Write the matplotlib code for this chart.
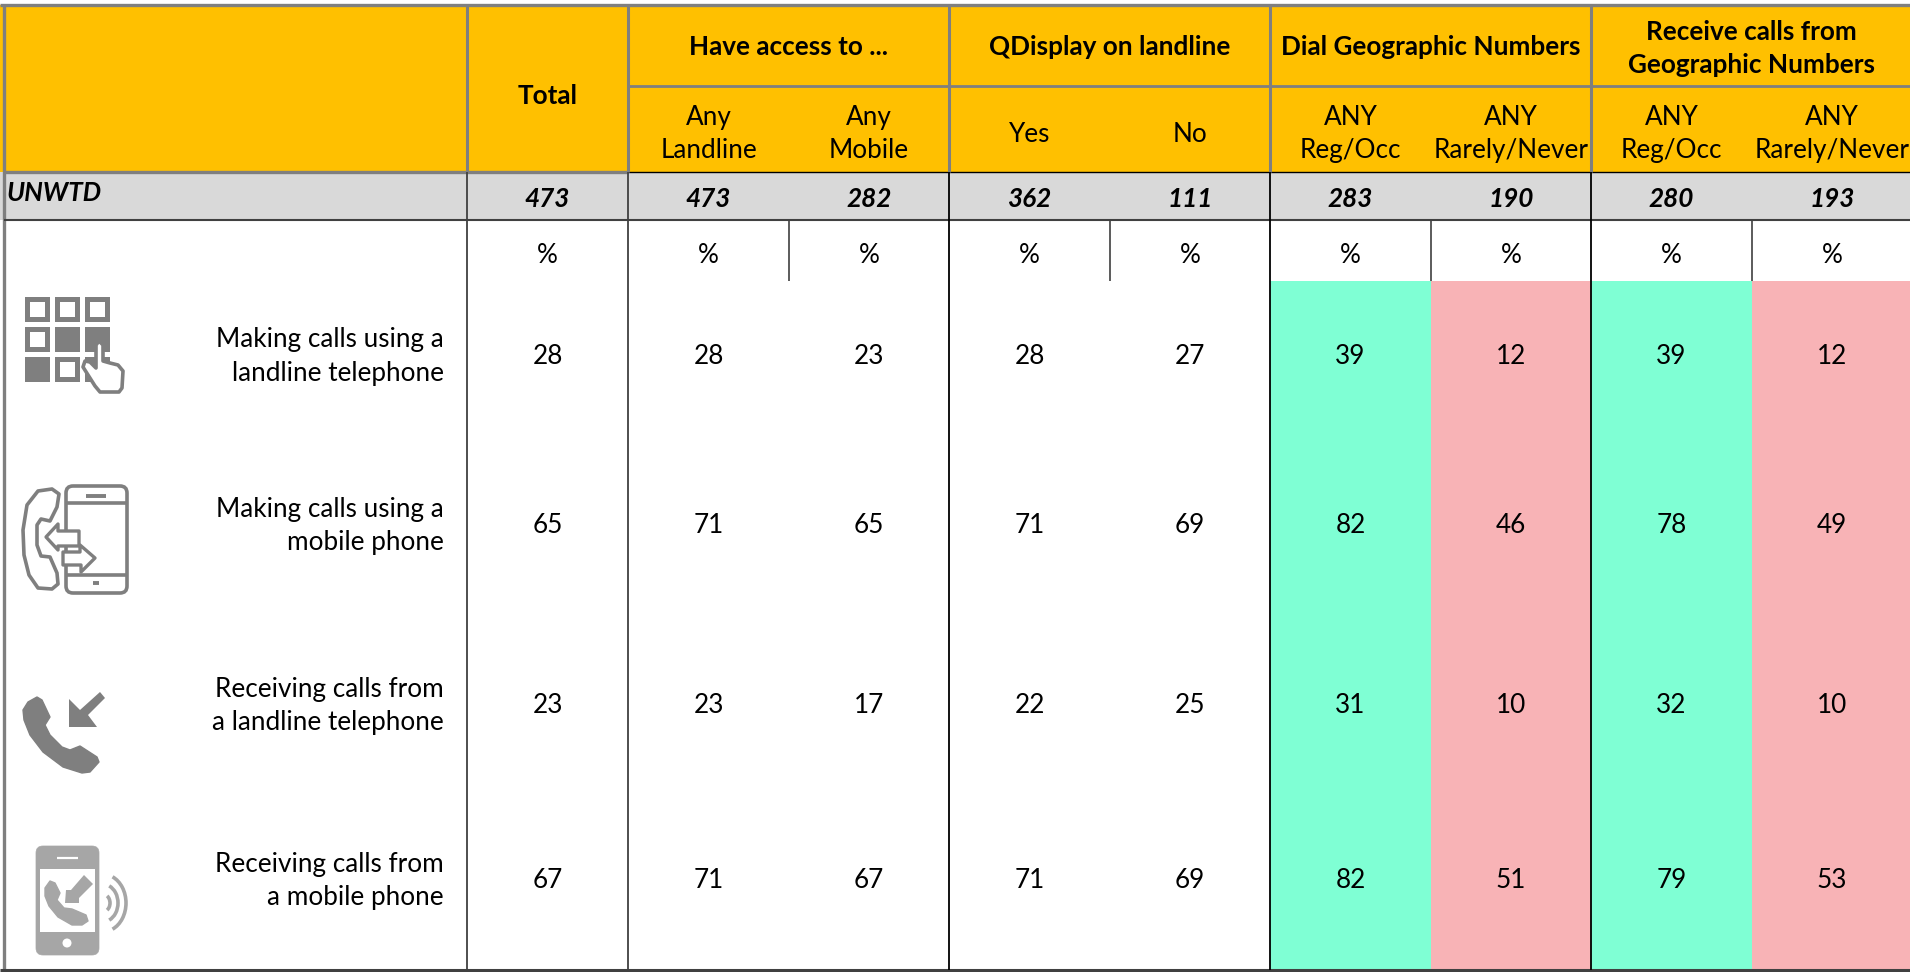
import matplotlib
matplotlib.use('Agg')
import matplotlib.pyplot as plt
from matplotlib.patches import Rectangle, Polygon, FancyBboxPatch, Circle, Arc

plt.rcParams['font.family'] = ['Lato', 'DejaVu Sans']

groups = ['Have access to ...', 'QDisplay on landline', 'Dial Geographic Numbers',
          'Receive calls from\nGeographic Numbers']
sub_headers = [('Any', 'Landline'), ('Any', 'Mobile'), ('Yes',), ('No',),
               ('ANY', 'Reg/Occ'), ('ANY', 'Rarely/Never'), ('ANY', 'Reg/Occ'), ('ANY', 'Rarely/Never')]
unwtd = [473, 473, 282, 362, 111, 283, 190, 280, 193]
row_labels = [('Making calls using a', 'landline telephone'),
              ('Making calls using a', 'mobile phone'),
              ('Receiving calls from', 'a landline telephone'),
              ('Receiving calls from', 'a mobile phone')]
landline_calls = [28, 28, 23, 28, 27, 39, 12, 39, 12]
mobile_calls = [65, 71, 65, 71, 69, 82, 46, 78, 49]
landline_recv = [23, 23, 17, 22, 25, 31, 10, 32, 10]
mobile_recv = [67, 71, 67, 71, 69, 82, 51, 79, 53]
rows = [landline_calls, mobile_calls, landline_recv, mobile_recv]

AMBER = '#FFC000'
SILVER = '#D9D9D9'
GREEN = '#7FFFD4'
PINK = '#F8B3B6'
LINE = '#7F7F7F'
DARK = '#404040'
ICON = '#7F7F7F'
LIGHT = '#A6A6A6'
FS = 18.8

col_edges = [467, 628, 789, 949, 1110, 1270, 1431, 1591, 1752, 1912]
sub_x = [(col_edges[i] + col_edges[i + 1]) / 2 for i in range(len(col_edges) - 1)]
row_y = [354, 523, 703, 878]
label_y = [(337, 371), (507, 540), (687, 720), (862, 895)]

fig = plt.figure(figsize=(19.1, 9.72), dpi=100)
ax = fig.add_axes([0, 0, 1, 1])
ax.set_xlim(0, 1910)
ax.set_ylim(972, 0)
ax.axis('off')


def rect(x0, y0, x1, y1, color, z=1):
    ax.add_patch(Rectangle((x0, y0), x1 - x0, y1 - y0, fc=color, ec='none', zorder=z))


def line(x0, y0, x1, y1, color, lw, z=3):
    ax.plot([x0, x1], [y0, y1], color=color, lw=lw, solid_capstyle='butt', zorder=z)


def text(x, y, s, ha='center', weight='normal', style='normal'):
    off = 1 if weight == 'bold' else 2.5
    ax.text(x, y + off, s, ha=ha, va='center', fontsize=FS, fontweight=weight, fontstyle=style,
            color='black', zorder=5)


rect(0, 5, 1910, 172, AMBER)
rect(0, 172, 1910, 220, SILVER)
rect(1270, 281, 1431, 970, GREEN)
rect(1431, 281, 1591, 970, PINK)
rect(1591, 281, 1752, 970, GREEN)
rect(1752, 281, 1910, 970, PINK)

# grid
line(0, 5, 1910, 5, LINE, 2.4)
line(4, 5, 4, 970, LINE, 2.4)
line(0, 969.5, 1910, 969.5, DARK, 2.2)
line(628, 86, 1910, 86, LINE, 2.0)
line(4, 172, 628, 172, LINE, 2.4)
line(628, 172, 1910, 172, 'black', 1.0)
line(4, 220, 1910, 220, DARK, 1.5)
for x in [467, 628, 949, 1270, 1591]:
    line(x, 5, x, 172, LINE, 2.2)
    line(x, 172, x, 970, DARK if x < 949 else 'black', 1.3)
for x in [789, 1110, 1431, 1752]:
    line(x, 220, x, 281, DARK, 1.2)

# header text
text(sub_x[0], 95, 'Total', weight='bold')
for i, g in enumerate(groups):
    cx = (col_edges[2 * i + 1] + col_edges[2 * i + 3]) / 2
    parts = g.split('\n')
    if len(parts) == 1:
        text(cx, 46, parts[0], weight='bold')
    else:
        text(cx, 31, parts[0], weight='bold')
        text(cx, 64, parts[1], weight='bold')
for i, sh in enumerate(sub_headers):
    cx = sub_x[i + 1]
    if len(sh) == 2:
        text(cx, 115, sh[0])
        text(cx, 148, sh[1])
    else:
        text(cx, 132, sh[0])

# body text
text(6, 192, 'UNWTD', ha='left', weight='bold', style='italic')
for cx, n in zip(sub_x, unwtd):
    text(cx, 198, str(n), weight='bold', style='italic')
    text(cx, 253, '%')
for y, vals in zip(row_y, rows):
    for cx, v in zip(sub_x, vals):
        text(cx, y, str(v))
for (y0, y1), (a, b) in zip(label_y, row_labels):
    text(444, y0, a, ha='right')
    text(444, y1, b, ha='right')


# icons
def poly(pts, fc=ICON, ec='none', lw=0, z=6):
    ax.add_patch(Polygon(pts, closed=True, fc=fc, ec=ec, lw=lw, joinstyle='round', zorder=z))


def rrect(x0, y0, x1, y1, r, fc='none', ec=ICON, lw=2.4, z=6):
    ax.add_patch(FancyBboxPatch((x0 + r, y0 + r), x1 - x0 - 2 * r, y1 - y0 - 2 * r,
                                boxstyle='round,pad=%f,rounding_size=%f' % (r, r),
                                fc=fc, ec=ec, lw=lw, zorder=z))


# keypad
pad_fill = [[0, 0, 0], [0, 1, 1], [1, 0, 1]]
for r, y in enumerate([297, 327, 357]):
    for c, x in enumerate([25, 55, 85]):
        rect(x, y, x + 25, y + 25, ICON, 6)
        if not pad_fill[r][c]:
            rect(x + 5, y + 5, x + 20, y + 20, 'white', 7)
hand = [(96, 345), (99, 341), (103, 345), (103, 361), (110, 363), (118, 365), (123, 371),
        (122, 388), (119, 392), (100, 392), (95, 386), (83, 367), (85, 361), (90, 362), (96, 368)]
poly(hand, fc='white', ec=ICON, lw=2.6, z=8)

# phone with two way arrows
rrect(66, 486, 127, 593, 7, fc='white', lw=2.6)
line(66, 503, 127, 503, ICON, 2.6, 7)
line(66, 575, 127, 575, ICON, 2.6, 7)
line(86, 496, 106, 496, ICON, 2.8, 7)
line(93, 583, 99, 583, ICON, 2.8, 7)
earpiece = [(23, 530), (27, 505), (38, 491), (52, 489), (59, 494), (57, 507), (50, 521),
            (41, 519), (37, 525), (37, 545), (41, 556), (50, 557), (57, 573), (58, 584),
            (52, 589), (38, 588), (29, 575), (24, 555)]
poly(earpiece, fc='white', ec=ICON, lw=2.6, z=7)
poly([(46, 537), (58, 524), (58, 531), (79, 531), (79, 546), (58, 546), (58, 550)],
     fc='white', ec=ICON, lw=2.4, z=8)
poly([(63, 552), (80, 552), (80, 545), (95, 558), (81, 572), (81, 565), (63, 565)],
     fc='white', ec=ICON, lw=2.4, z=8)

# handset with incoming arrow
handset = [(23, 710), (28, 702), (37, 697), (42, 700), (50, 717), (45, 725), (50, 735), (62, 747),
           (70, 750), (80, 746), (97, 757), (99, 762), (90, 772), (82, 773), (63, 767),
           (43, 752), (30, 735), (24, 720)]
poly(handset, ec=ICON, lw=1.0)
poly([(100, 692), (105, 698), (88, 715), (97, 727), (69, 727), (69, 699), (80, 710)])

# mobile ringing
rrect(36, 846, 99, 955, 7, fc=LIGHT, ec=LIGHT, lw=0.5)
rect(40, 869, 95, 932, 'white', 7)
line(57, 858, 78, 858, 'white', 1.6, 7)
ax.add_patch(Circle((67, 943), 4.5, fc='white', ec='none', zorder=7))
small_set = [(45, 888), (50, 881), (55, 883), (60, 893), (57, 900), (64, 908), (72, 909), (86, 915),
             (88, 921), (82, 925), (72, 925), (58, 917), (49, 906), (45, 896)]
poly(small_set, fc=LIGHT, ec=LIGHT, lw=1.0, z=8)
poly([(84, 875), (93, 884), (79, 898), (79, 903), (65, 903), (66, 890), (71, 890)], fc=LIGHT, z=8)
for w, a in [(14, 60), (30, 70), (46, 70)]:
    ax.add_patch(Arc((103, 903), w, w * 1.25, theta1=-a, theta2=a, ec=LIGHT, lw=2.6, zorder=7))

fig.savefig('out.png', dpi=100, facecolor='white')
